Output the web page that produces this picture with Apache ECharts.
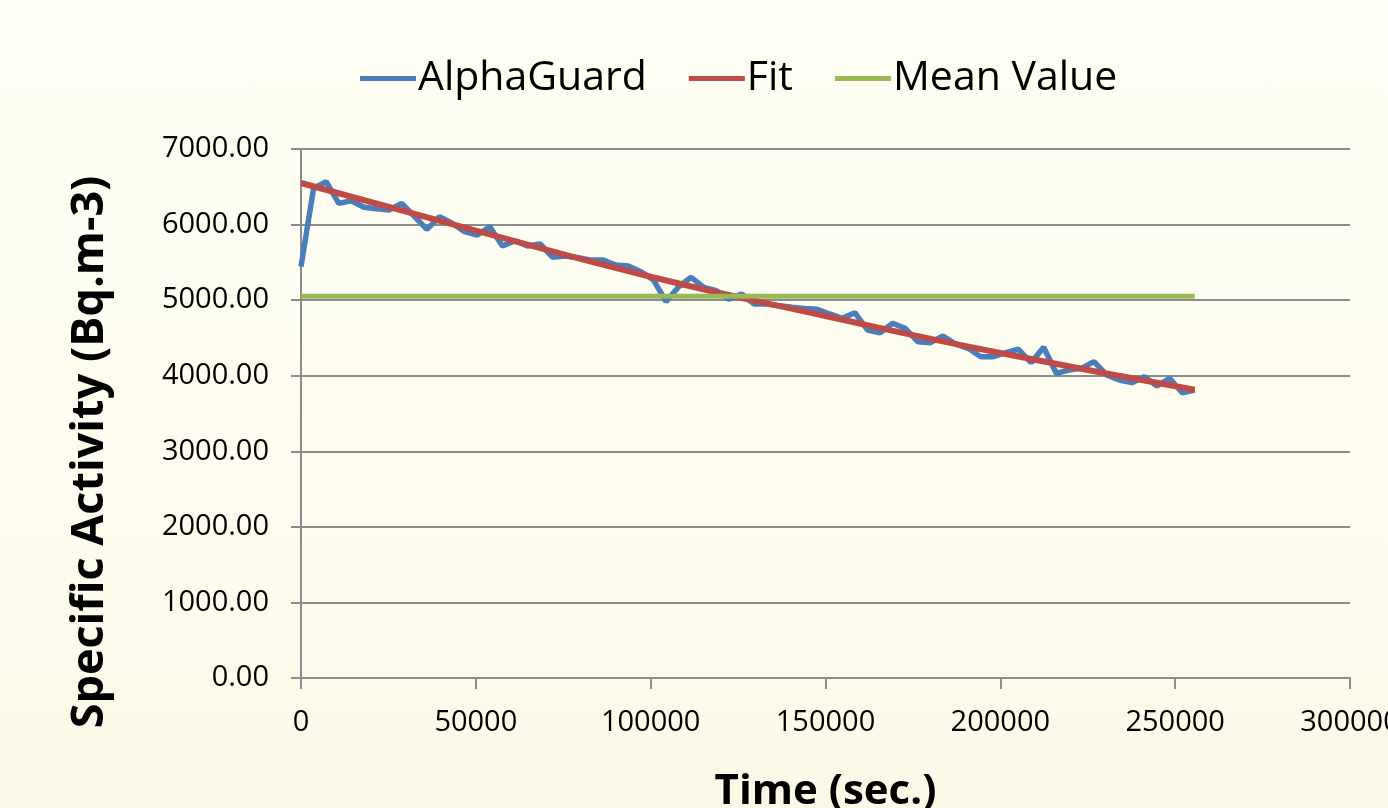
<!DOCTYPE html>
<html>
<head>
<meta charset="utf-8">
<script src="https://cdn.jsdelivr.net/npm/echarts@6/dist/echarts.min.js"></script>
<style>
html,body{margin:0;padding:0;}
#chart{width:1388px;height:808px;background:linear-gradient(to bottom,#FEFEF4 0%,#FDFCEE 60%,#FBF8E6 100%);}
</style>
</head>
<body>
<div id="chart"></div>
<script>
// time in seconds
const times = [0,3600,7200,10800,14400,18000,21600,25200,28800,32400,36000,39600,43200,46800,50400,54000,57600,61200,64800,68400,72000,75600,79200,82800,86400,90000,93600,97200,100800,104400,108000,111600,115200,118800,122400,126000,129600,133200,136800,140400,144000,147600,151200,154800,158400,162000,165600,169200,172800,176400,180000,183600,187200,190800,194400,198000,201600,205200,208800,212400,216000,219600,223200,226800,230400,234000,237600,241200,244800,248400,252000,255600];
const alphaGuard = [5443,6480,6568,6281,6316,6229,6210,6193,6281,6110,5937,6104,6017,5906,5862,5972,5717,5787,5717,5743,5567,5584,5560,5531,5531,5465,5452,5377,5267,4980,5178,5302,5170,5125,5011,5081,4949,4949,4927,4905,4890,4879,4817,4760,4834,4605,4569,4694,4627,4450,4437,4526,4420,4363,4252,4252,4305,4350,4172,4376,4032,4076,4098,4186,4010,3943,3908,3987,3864,3966,3775,3811];
const fitTimes = [0,50000,100000,150000,200000,255600];
const fitValues = [6550,5920,5310,4790,4300,3815];
const meanTimes = [0,255600];
const meanValues = [5050,5050];
const seriesNames = ['AlphaGuard','Fit','Mean Value'];
const xTitle = 'Time (sec.)';
const yTitle = 'Specific Activity (Bq.m-3)';

const zip = (a,b)=>a.map((t,i)=>[t,b[i]]);
const FONT = '"Open Sans","Noto Sans",sans-serif';

const chart = echarts.init(document.getElementById('chart'));
chart.setOption({
  backgroundColor:'transparent',
  animation:false,
  textStyle:{fontFamily:FONT,color:'#000'},
  legend:{
    top:53,left:355,
    itemWidth:56,itemHeight:5,itemGap:42,
    icon:'rect',
    textStyle:{fontSize:41,fontFamily:FONT,color:'#000',padding:[0,0,0,-3]},
    data:seriesNames
  },
  grid:{left:301,right:38,top:149,bottom:130,containLabel:false,outerBoundsMode:'none'},
  graphic:[{
    type:'text',x:90,y:452,rotation:Math.PI/2,
    style:{text:yTitle,fontSize:45,fontWeight:'bold',fontFamily:FONT,fill:'#000',align:'center',verticalAlign:'middle'}
  }],
  xAxis:{
    type:'value',min:0,max:300000,interval:50000,
    name:xTitle,nameLocation:'middle',nameGap:93,
    nameTextStyle:{fontSize:42,fontWeight:'bold',fontFamily:FONT,color:'#000'},
    axisLine:{show:true,lineStyle:{color:'#8C8C8C',width:2}},
    axisTick:{show:true,inside:false,length:11,lineStyle:{color:'#8C8C8C',width:2}},
    axisLabel:{fontSize:29,color:'#000',margin:30,fontFamily:FONT,formatter:v=>String(v),hideOverlap:false},
    splitLine:{show:false}
  },
  yAxis:{
    type:'value',min:0,max:7000,interval:1000,
    axisLine:{show:true,lineStyle:{color:'#8C8C8C',width:2}},
    axisTick:{show:true,inside:false,length:10,lineStyle:{color:'#8C8C8C',width:2}},
    axisLabel:{fontSize:29,color:'#000',margin:32,fontFamily:FONT,formatter:v=>v.toFixed(2)},
    splitLine:{show:true,lineStyle:{color:'#8C8C8C',width:2}}
  },
  series:[
    {name:seriesNames[0],type:'line',data:zip(times,alphaGuard),showSymbol:false,symbol:'none',
     lineStyle:{color:'#4A7EBB',width:5.5},itemStyle:{color:'#4A7EBB'},z:2},
    {name:seriesNames[1],type:'line',data:zip(fitTimes,fitValues),showSymbol:false,symbol:'none',smooth:true,
     lineStyle:{color:'#BE4B48',width:6},itemStyle:{color:'#BE4B48'},z:3},
    {name:seriesNames[2],type:'line',data:zip(meanTimes,meanValues),showSymbol:false,symbol:'none',
     lineStyle:{color:'#98B954',width:5},itemStyle:{color:'#98B954'},z:4}
  ]
});
</script>
</body>
</html>
